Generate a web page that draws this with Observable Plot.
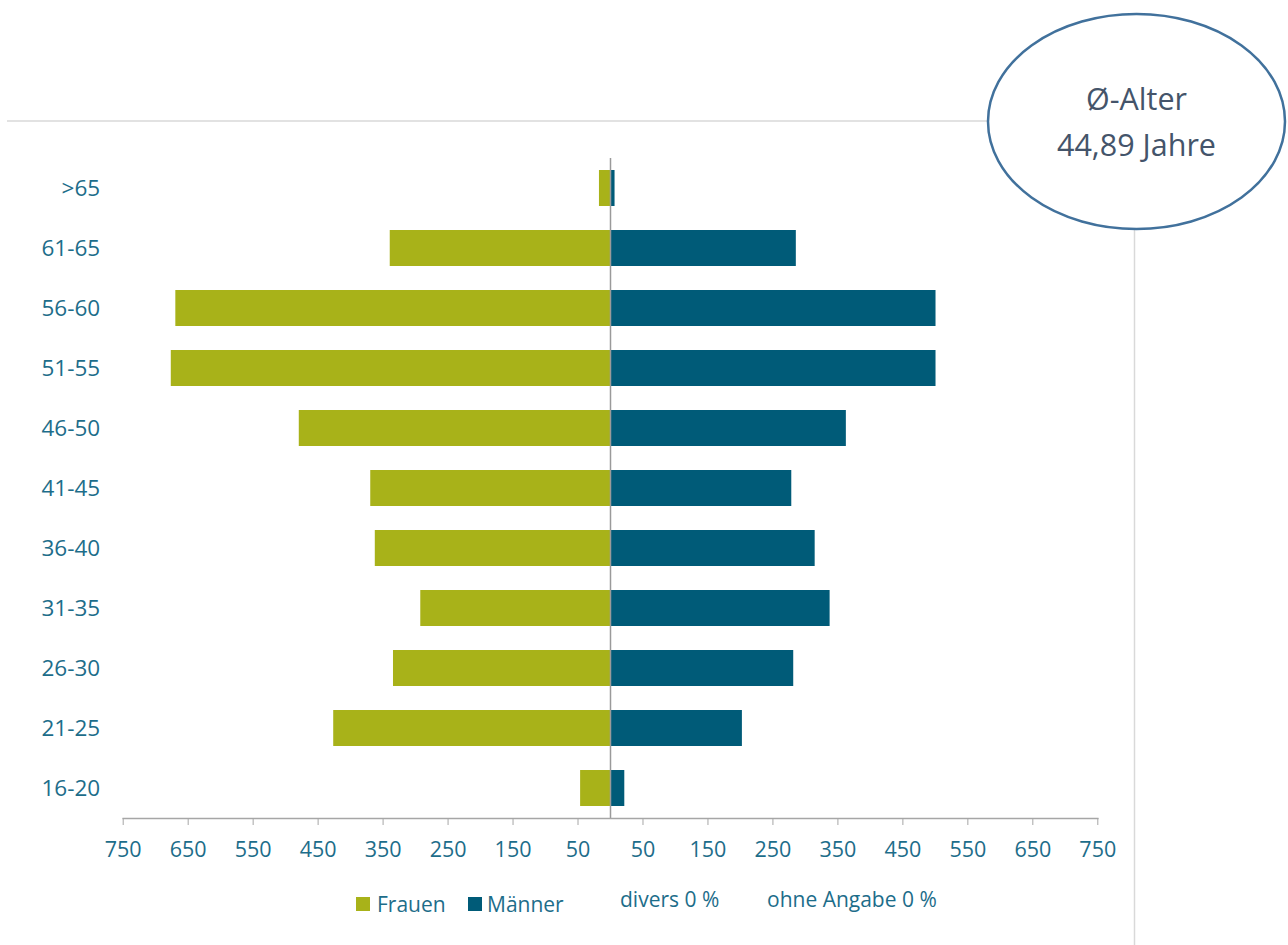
<!DOCTYPE html>
<html>
<head>
<meta charset="utf-8">
<script src="https://cdn.jsdelivr.net/npm/d3@7"></script>
<script src="https://cdn.jsdelivr.net/npm/@observablehq/plot@0.6"></script>
<style>
  html, body { margin: 0; padding: 0; background: #fff; }
  #wrap { position: relative; width: 1288px; height: 945px; overflow: hidden; font-family: "Open Sans", sans-serif; }
  #chart { position: absolute; left: 0; top: 0; }
  #deco { position: absolute; left: 0; top: 0; }
  .leg { position: absolute; font-size: 21px; color: #1d6d8a; white-space: nowrap; line-height: 1; }
  .sw { position: absolute; width: 14px; height: 14px; }
</style>
</head>
<body>
<div id="wrap">
  <div id="chart"></div>
  <svg id="deco" width="1288" height="945" style="pointer-events:none">
    <line x1="7" x2="990" y1="121" y2="121" stroke="#d9d9d9" stroke-width="1.5"></line>
    <line x1="1134.5" x2="1134.5" y1="229" y2="945" stroke="#d9d9d9" stroke-width="1.5"></line>
    <ellipse cx="1136.5" cy="121.5" rx="148.5" ry="107.5" fill="#fff" stroke="#41719c" stroke-width="2.5"></ellipse>
    <text x="1136.5" y="109.5" text-anchor="middle" font-family="Open Sans" font-size="30.5" fill="#44546a">Ø-Alter</text>
    <text x="1136.5" y="155.5" text-anchor="middle" font-family="Open Sans" font-size="30.5" fill="#44546a">44,89 Jahre</text>
  </svg>
  <div class="sw" style="left:356px; top:897px; background:#a8b219;"></div>
  <div class="leg" style="left:377px; top:894px;">Frauen</div>
  <div class="sw" style="left:468px; top:897px; background:#005b78;"></div>
  <div class="leg" style="left:487px; top:894px;">Männer</div>
  <div class="leg" style="left:620px; top:889px;">divers 0 %</div>
  <div class="leg" style="left:767px; top:889px;">ohne Angabe 0 %</div>
</div>
<script>
const ageGroups = [">65", "61-65", "56-60", "51-55", "46-50", "41-45", "36-40", "31-35", "26-30", "21-25", "16-20"];
const frauen  = [17, 339, 669, 676, 479, 369, 362, 292, 334, 426, 46];
const maenner = [7, 286, 501, 501, 363, 279, 315, 338, 282, 203, 22];
const xTicks = [-750, -650, -550, -450, -350, -250, -150, -50, 50, 150, 250, 350, 450, 550, 650, 750];

const rows = ageGroups.map((age, i) => ({age, frauen: frauen[i], maenner: maenner[i]}));

const teal = "#1d6d8a";

const chart = Plot.plot({
  width: 1288,
  height: 870,
  marginLeft: 122.7,
  marginRight: 190.7,
  marginTop: 158,
  marginBottom: 52,
  style: {fontFamily: "Open Sans", fontSize: "21px", background: "transparent"},
  x: {domain: [-750, 750]},
  y: {domain: ageGroups, paddingInner: 0.4, paddingOuter: 0.2},
  marks: [
    Plot.barX(rows, {y: "age", x1: d => -d.frauen, x2: 0, fill: "#a8b219"}),
    Plot.barX(rows, {y: "age", x1: 0, x2: "maenner", fill: "#005b78"}),
    Plot.ruleX([0], {stroke: "#9a9a9a", strokeWidth: 1.5}),
    Plot.frame({anchor: "bottom", stroke: "#a6a6a6", strokeWidth: 1.5}),
    Plot.axisX({ticks: xTicks, tickFormat: d => Math.abs(d), tickSize: 7, tickPadding: 16, color: teal, stroke: "#a6a6a6", fontSize: 21.5, label: null}),
    Plot.axisY({tickSize: 0, tickPadding: 23, color: teal, fontSize: 22.5, label: null})
  ]
});
document.getElementById("chart").appendChild(chart);
</script>
</body>
</html>
